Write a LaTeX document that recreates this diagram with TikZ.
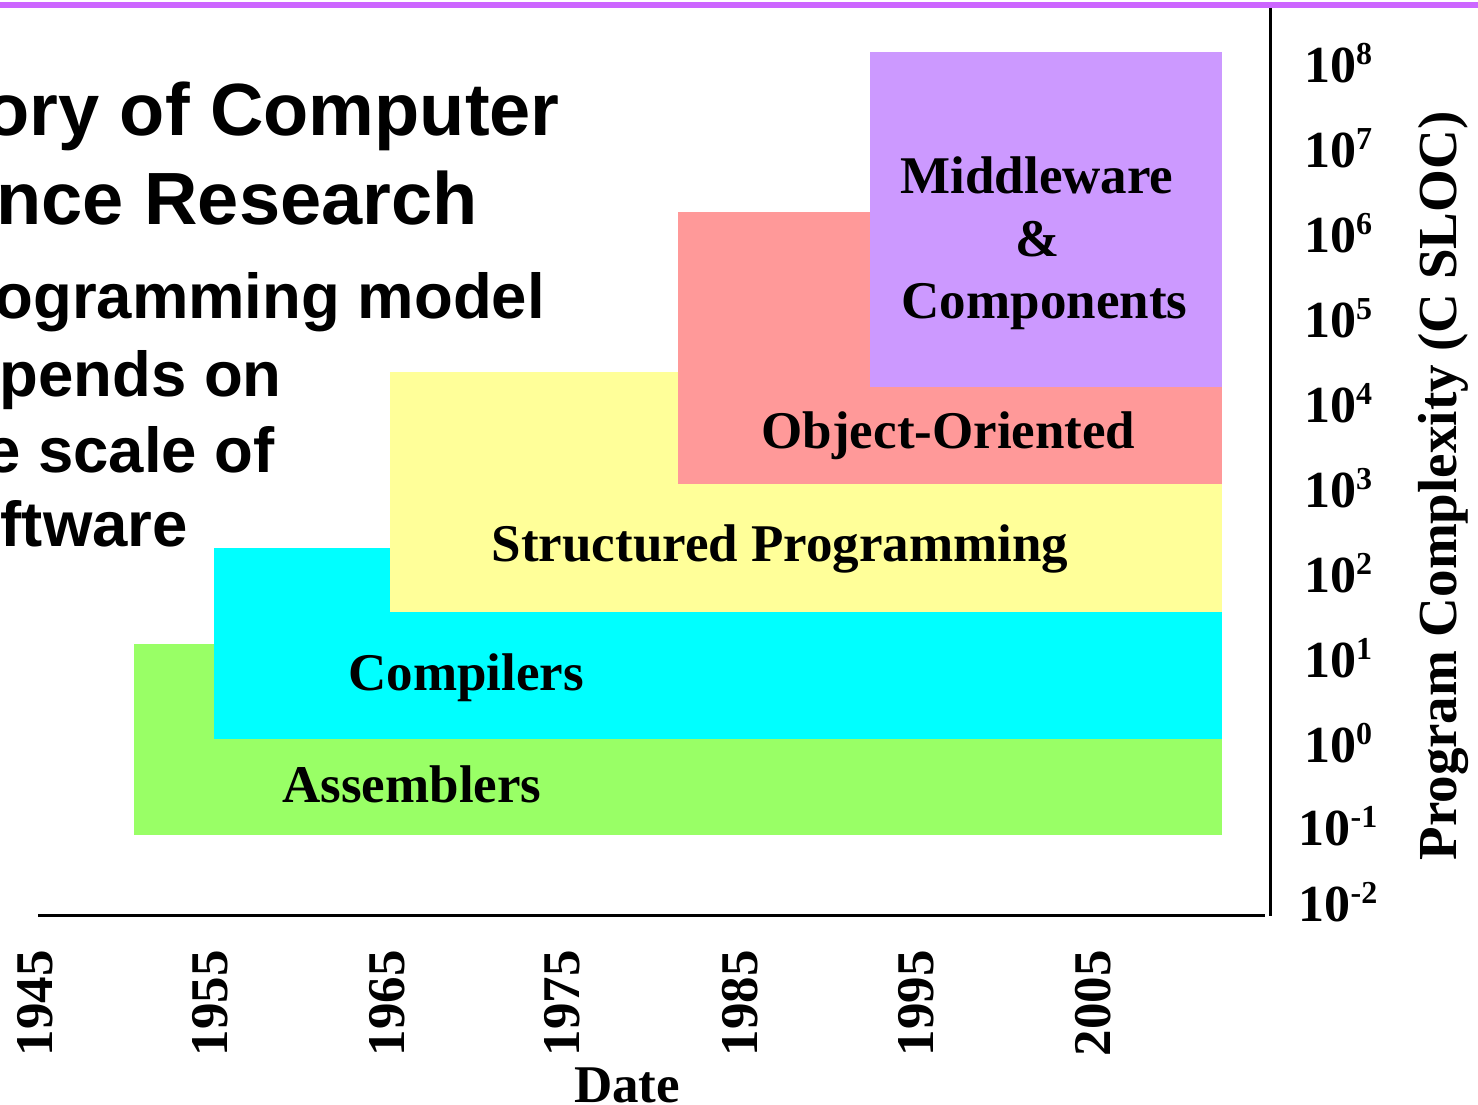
\documentclass[tikz,border=0pt]{standalone}
\usepackage{fontspec}
\setmainfont{Liberation Serif}
\newfontfamily\titlefont{Liberation Sans}
\definecolor{asmgreen}{HTML}{99FF66}
\definecolor{compcyan}{HTML}{00FFFF}
\definecolor{structyellow}{HTML}{FFFF99}
\definecolor{oosalmon}{HTML}{FF9999}
\definecolor{mwpurple}{HTML}{CC99FF}
\definecolor{toplinecol}{HTML}{CC66FF}
\newcommand\tickten[1]{10\raisebox{18pt}{\fontsize{32}{32}\selectfont #1}}
\begin{document}
\begin{tikzpicture}[x=1pt,y=-1pt,
  titletext/.style={font=\titlefont\bfseries\fontsize{74}{74}\selectfont, anchor=base east, inner sep=0pt},
  subtext/.style={font=\titlefont\bfseries\fontsize{63.5}{63.5}\selectfont, anchor=base east, inner sep=0pt},
  boxlabel/.style={font=\bfseries\fontsize{53}{53}\selectfont, anchor=base, inner sep=0pt},
  ylab/.style={font=\bfseries\fontsize{52}{52}\selectfont, anchor=base, inner sep=0pt},
  yearlab/.style={font=\bfseries\fontsize{53}{53}\selectfont, rotate=90, anchor=east, inner sep=0pt},
  axistitle/.style={font=\bfseries\fontsize{53}{53}\selectfont, inner sep=0pt},
  axisline/.style={line width=3pt, black},
]
\useasboundingbox (0,0) rectangle (1478,1104);
\fill[white] (0,0) rectangle (1478,1104);

% top rule
\fill[toplinecol] (0,2) rectangle (1478,8);

% layers
\fill[asmgreen]     (134,644) rectangle (1222,835);
\fill[compcyan]     (214,548) rectangle (1222,739);
\fill[structyellow] (390,372) rectangle (1222,612);
\fill[oosalmon]     (678,212) rectangle (1222,484);
\fill[mwpurple]     (870,52)  rectangle (1222,387);

% axes
\draw[axisline] (1270,8) -- (1270,916);
\draw[axisline] (38,915) -- (1265,915);

% title text (clipped at left edge, as in the original)
\node[titletext] (t1) at (560,135) {ory of Computer};
\node[titletext] (t2) at (478,224) {nce Research};
\node[subtext] (s1) at (545,318) {ogramming model};
\node[subtext] (s2) at (282,396) {pends on};
\node[subtext] (s3) at (275,472) {e scale of};
\node[subtext] (s4) at (188,546) {ftware};

% layer labels
\node[boxlabel] (asm) at (412,802) {Assemblers};
\node[boxlabel] (cmp) at (466,690) {Compilers};
\node[boxlabel] (str) at (780,561) {Structured Programming};
\node[boxlabel] (oo)  at (948.5,448) {Object-Oriented};
\node[boxlabel] (mw1) at (1037,193) {Middleware};
\node[boxlabel] (mw2) at (1037.5,256) {\&};
\node[boxlabel] (mw3) at (1044.5,318) {Components};

% y tick labels
\node[ylab] (y8) at (1338,82)  {\tickten{8}};
\node[ylab] (y7) at (1338,167) {\tickten{7}};
\node[ylab] (y6) at (1338,252) {\tickten{6}};
\node[ylab] (y5) at (1338,337) {\tickten{5}};
\node[ylab] (y4) at (1338,422) {\tickten{4}};
\node[ylab] (y3) at (1338,507) {\tickten{3}};
\node[ylab] (y2) at (1338,592) {\tickten{2}};
\node[ylab] (y1) at (1338,677) {\tickten{1}};
\node[ylab] (y0) at (1338,762) {\tickten{0}};
\node[ylab] (ym1) at (1338,845) {\tickten{-1}};
\node[ylab] (ym2) at (1338,921) {\tickten{-2}};

% y axis title
\node[axistitle, font=\bfseries\fontsize{55}{55}\selectfont, rotate=90] (ytitle) at (1443,486) {Program Complexity (C SLOC)};

% x tick labels
\node[yearlab] (x1945) at (35,950)  {1945};
\node[yearlab] (x1955) at (210,950) {1955};
\node[yearlab] (x1965) at (387,950) {1965};
\node[yearlab] (x1975) at (562,950) {1975};
\node[yearlab] (x1985) at (740,950) {1985};
\node[yearlab] (x1995) at (916,950) {1995};
\node[yearlab] (x2005) at (1093,950) {2005};

% x axis title
\node[axistitle, anchor=base] (xtitle) at (627,1102) {Date};
\end{tikzpicture}
\end{document}
